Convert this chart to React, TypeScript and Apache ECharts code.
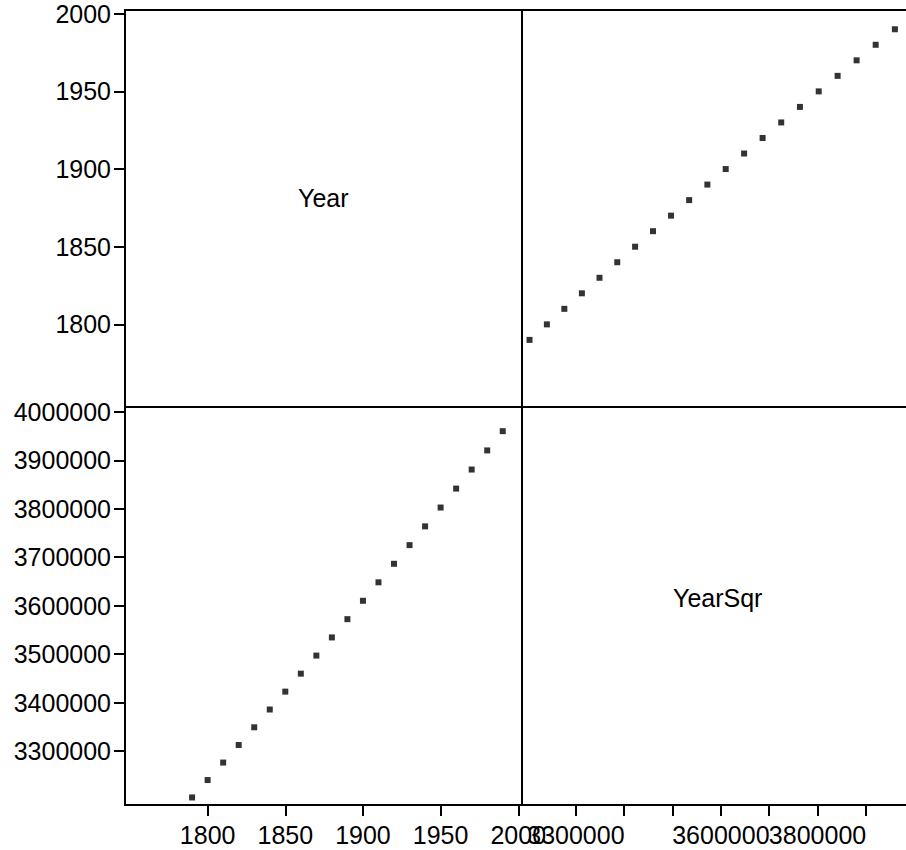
import React, { useEffect, useRef } from "react";
import * as echarts from "echarts";

const years = [1790, 1800, 1810, 1820, 1830, 1840, 1850, 1860, 1870, 1880, 1890, 1900, 1910, 1920, 1930, 1940, 1950, 1960, 1970, 1980, 1990];
const yearSqr = [3204100, 3240000, 3276100, 3312400, 3348900, 3385600, 3422500, 3459600, 3496900, 3534400, 3572100, 3610000, 3648100, 3686400, 3724900, 3763600, 3802500, 3841600, 3880900, 3920400, 3960100];
const yearTicks = [1800, 1850, 1900, 1950, 2000];
const sqrTicksLeft = [3300000, 3400000, 3500000, 3600000, 3700000, 3800000, 3900000, 4000000];
const sqrTicksBottom = [3300000, 3400000, 3500000, 3600000, 3700000, 3800000, 3900000];
const sqrLabelsBottom = [3300000, 3600000, 3800000];
const varNames = ["Year", "YearSqr"];

const YEAR_MIN = 1746.8;
const YEAR_MAX = 2002.4;
const SQR_MIN = 3188500;
const SQR_MAX = 4010000;

export default function App() {
  const ref = useRef<HTMLDivElement>(null);
  useEffect(() => {
    if (!ref.current) return;
    const chart = echarts.init(ref.current, null, { renderer: "svg" });
    const font = { fontFamily: "Liberation Sans, Arial, sans-serif", fontSize: 25, color: "#000" };
    const fmt = (v: number) => String(Math.round(v));
    const tick = (vals: number[]) => ({
      show: true,
      inside: false,
      length: 11,
      lineStyle: { color: "#000", width: 2 },
      customValues: vals,
    });
    const label = (vals: number[], margin: number) => ({
      ...font,
      margin,
      customValues: vals,
      formatter: fmt,
      interval: 0,
      hideOverlap: false,
      showMinLabel: true,
      showMaxLabel: true,
    });
    const grids = [
      { left: 125, top: 10, width: 397, height: 397 },
      { left: 522, top: 10, width: 397, height: 397 },
      { left: 125, top: 407, width: 397, height: 398 },
      { left: 522, top: 407, width: 397, height: 398 },
    ].map((g) => ({ ...g, show: true, borderColor: "#000", borderWidth: 2, backgroundColor: "transparent", containLabel: false }));

    const xAxis: any[] = [
      { gridIndex: 0, type: "value", min: YEAR_MIN, max: YEAR_MAX, show: false },
      { gridIndex: 1, type: "value", min: SQR_MIN, max: SQR_MAX, show: false },
      {
        gridIndex: 2, type: "value", min: YEAR_MIN, max: YEAR_MAX, position: "bottom",
        axisLine: { show: false }, splitLine: { show: false },
        axisTick: tick(yearTicks),
        axisLabel: label(yearTicks, 17),
      },
      {
        gridIndex: 3, type: "value", min: SQR_MIN, max: SQR_MAX, position: "bottom",
        axisLine: { show: false }, splitLine: { show: false },
        axisTick: tick(sqrTicksBottom),
        axisLabel: { show: false },
      },
      // one label-only axis per shown label so none is dropped for overlap
      ...sqrLabelsBottom.map((v) => ({
        gridIndex: 3, type: "value", min: SQR_MIN, max: SQR_MAX, position: "bottom",
        axisLine: { show: false }, splitLine: { show: false },
        axisTick: { show: false },
        axisLabel: label([v], 17),
      })),
    ];
    const yAxis: any[] = [
      {
        gridIndex: 0, type: "value", min: YEAR_MIN, max: YEAR_MAX, position: "left",
        axisLine: { show: false }, splitLine: { show: false },
        axisTick: tick(yearTicks),
        axisLabel: label(yearTicks, 14),
      },
      { gridIndex: 1, type: "value", min: YEAR_MIN, max: YEAR_MAX, show: false },
      {
        gridIndex: 2, type: "value", min: SQR_MIN, max: SQR_MAX, position: "left",
        axisLine: { show: false }, splitLine: { show: false },
        axisTick: tick(sqrTicksLeft),
        axisLabel: label(sqrTicksLeft, 14),
      },
      { gridIndex: 3, type: "value", min: SQR_MIN, max: SQR_MAX, show: false },
    ];

    const marker = { symbol: "rect", symbolSize: 6, itemStyle: { color: "#000" } };
    chart.setOption({
      animation: false,
      backgroundColor: "#fff",
      grid: grids,
      xAxis,
      yAxis,
      graphic: [
        { type: "text", left: 298, top: 185, style: { text: varNames[0], font: "25px Liberation Sans, Arial, sans-serif", fill: "#000" } },
        { type: "text", left: 673, top: 585, style: { text: varNames[1], font: "25px Liberation Sans, Arial, sans-serif", fill: "#000" } },
      ],
      series: [
        {
          type: "scatter", xAxisIndex: 1, yAxisIndex: 1, ...marker,
          data: yearSqr.map((v, i) => [v, years[i]]),
        },
        {
          type: "scatter", xAxisIndex: 2, yAxisIndex: 2, ...marker,
          data: years.map((v, i) => [v, yearSqr[i]]),
        },
      ],
    });
    return () => chart.dispose();
  }, []);
  return (
    <div style={{ position: "absolute", left: 0, top: 0, width: 906, height: 850, overflow: "hidden", background: "#fff" }}>
      <div ref={ref} style={{ position: "absolute", left: 0, top: 0, width: 930, height: 850 }} />
    </div>
  );
}
